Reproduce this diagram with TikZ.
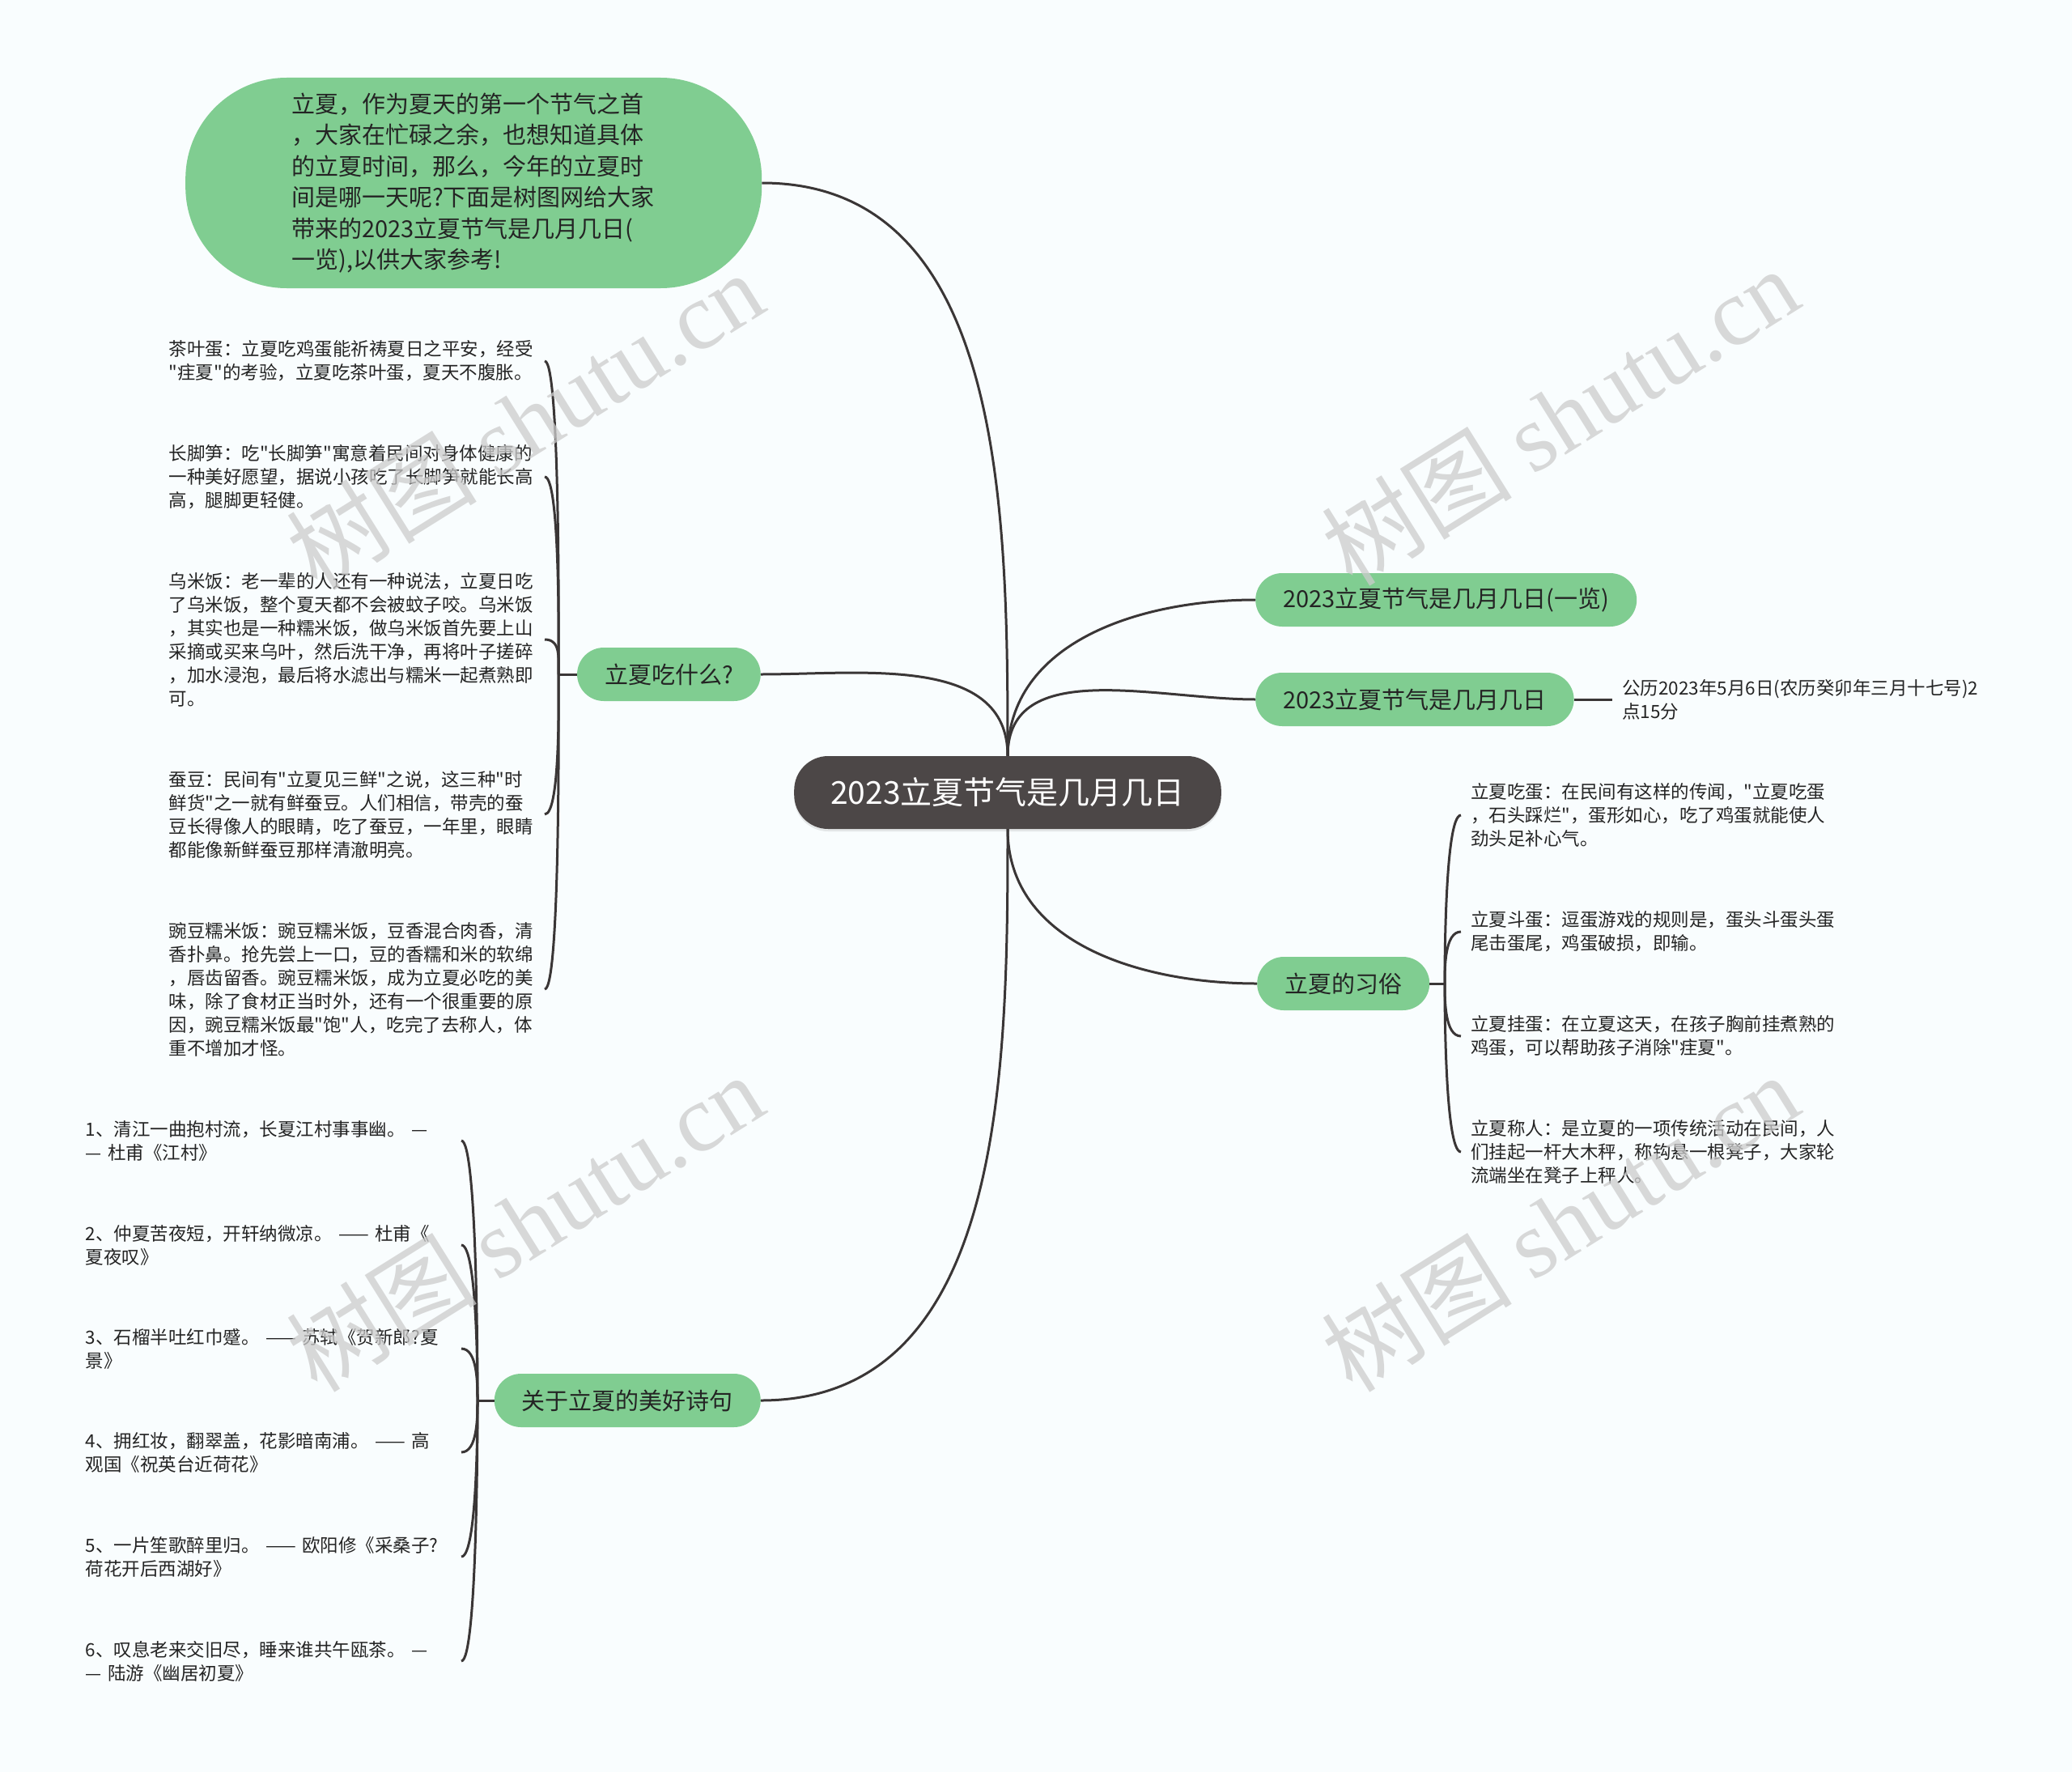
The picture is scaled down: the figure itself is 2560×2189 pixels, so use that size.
\documentclass[tikz,border=0pt]{standalone}
\usepackage{fontspec}
\setmainfont{Noto Sans CJK SC}[Ligatures=TeXOff]
\newfontfamily\wmlatin{Liberation Serif}
\usepackage{tikz}
\usetikzlibrary{shadows}
\usepackage{xcolor}
\definecolor{lxgreen}{RGB}{128,205,145}
\definecolor{lxdark}{RGB}{76,71,71}
\definecolor{lxline}{RGB}{58,54,54}
\definecolor{lxtext}{RGB}{36,36,36}
\definecolor{lxpaper}{RGB}{249,253,254}
\definecolor{lxmark}{RGB}{204,204,204}

\tikzset{
  rootnode/.style={fill=lxdark, text=white, rounded corners=42pt, minimum height=90pt,
    inner xsep=45pt, inner ysep=0pt, font=\fontsize{39}{46}\selectfont,
    drop shadow={shadow xshift=0pt, shadow yshift=-3pt, opacity=0.18}},
  topicnode/.style={fill=lxgreen, text=lxtext, rounded corners=33pt, minimum height=66pt,
    inner xsep=34pt, inner ysep=0pt, font=\fontsize{29}{36}\selectfont},
  leafnode/.style={text=lxtext, align=left, text width=452pt, inner xsep=12pt,
    inner ysep=0pt, font=\fontsize{22.5}{29}\selectfont},
  link/.style={draw=lxline, line width=3pt},
  twig/.style={link, out distance=20pt, in distance=20pt},
  wmtext/.style={text=lxmark, text opacity=0.75, rotate=32, font=\fontsize{118}{124}\selectfont}
}

\begin{document}
\begin{tikzpicture}[x=1pt,y=1pt]
\fill[lxpaper] (0,0) rectangle (2560,-2189);
\useasboundingbox (0,0) rectangle (2560,-2189);

% centre and first level
\node[rootnode] (root) at (1245,-979) {2023立夏节气是几月几日};
\node[fill=lxgreen, text=lxtext, rounded corners=125pt, align=left, text width=450pt,
  minimum height=260pt, inner xsep=131pt, inner ysep=0pt, anchor=west,
  font=\fontsize{29}{38.4}\selectfont] (intro) at (229,-226)
  {立夏，作为夏天的第一个节气之首\\，大家在忙碌之余，也想知道具体\\的立夏时间，那么，今年的立夏时\\间是哪一天呢?下面是树图网给大家\\带来的2023立夏节气是几月几日(\\一览),以供大家参考!};
\node[topicnode, anchor=west] (yilan) at (1551,-741) {2023立夏节气是几月几日(一览)};
\node[topicnode, anchor=west] (jiri) at (1551,-864) {2023立夏节气是几月几日};
\node[topicnode, anchor=west] (xisu) at (1553,-1215) {立夏的习俗};
\node[topicnode, anchor=east] (chi) at (940,-833) {立夏吃什么?};
\node[topicnode, anchor=east] (shiju) at (940,-1730) {关于立夏的美好诗句};

\draw[link] (root.north) to[out=90,in=0] (intro.east);
\draw[link] (root.north) to[out=90,in=0] (chi.east);
\draw[link] (root.north) to[out=90,in=180] (yilan.west);
\draw[link] (root.north) to[out=90,in=180] (jiri.west);
\draw[link] (root.south) to[out=-90,in=180] (xisu.west);
\draw[link] (root.south) to[out=-90,in=0] (shiju.east);

% date
\node[leafnode, anchor=west] (riqi) at (1992,-864) {公历2023年5月6日(农历癸卯年三月十七号)2\\点15分};
\draw[link] (jiri.east) -- (riqi.west);

% what to eat
\coordinate (chiJ) at (690,-833);
\node[leafnode, anchor=east] (chaye) at (673,-446) {茶叶蛋：立夏吃鸡蛋能祈祷夏日之平安，经受\\"疰夏"的考验，立夏吃茶叶蛋，夏天不腹胀。};
\node[leafnode, anchor=east] (sun) at (673,-589) {长脚笋：吃"长脚笋"寓意着民间对身体健康的\\一种美好愿望，据说小孩吃了长脚笋就能长高\\高，腿脚更轻健。};
\node[leafnode, anchor=east] (wumi) at (673,-790) {乌米饭：老一辈的人还有一种说法，立夏日吃\\了乌米饭，整个夏天都不会被蚊子咬。乌米饭\\，其实也是一种糯米饭，做乌米饭首先要上山\\采摘或买来乌叶，然后洗干净，再将叶子搓碎\\，加水浸泡，最后将水滤出与糯米一起煮熟即\\可。};
\node[leafnode, anchor=east] (candou) at (673,-1006) {蚕豆：民间有"立夏见三鲜"之说，这三种"时\\鲜货"之一就有鲜蚕豆。人们相信，带壳的蚕\\豆长得像人的眼睛，吃了蚕豆，一年里，眼睛\\都能像新鲜蚕豆那样清澈明亮。};
\node[leafnode, anchor=east] (wandou) at (673,-1222) {豌豆糯米饭：豌豆糯米饭，豆香混合肉香，清\\香扑鼻。抢先尝上一口，豆的香糯和米的软绵\\，唇齿留香。豌豆糯米饭，成为立夏必吃的美\\味，除了食材正当时外，还有一个很重要的原\\因，豌豆糯米饭最"饱"人，吃完了去称人，体\\重不增加才怪。};
\draw[link] (chi.west) -- (chiJ);
\foreach \n in {chaye,sun,wumi}
  \draw[twig] (chiJ) to[out=90,in=0] (\n.east);
\foreach \n in {candou,wandou}
  \draw[twig] (chiJ) to[out=-90,in=0] (\n.east);

% poems
\coordinate (shijuJ) at (590,-1730);
\node[leafnode, anchor=east] (shi1) at (570,-1409) {1、清江一曲抱村流，长夏江村事事幽。 —\\— 杜甫《江村》};
\node[leafnode, anchor=east] (shi2) at (570,-1538) {2、仲夏苦夜短，开轩纳微凉。 —— 杜甫《\\夏夜叹》};
\node[leafnode, anchor=east] (shi3) at (570,-1666) {3、石榴半吐红巾蹙。 —— 苏轼《贺新郎?夏\\景》};
\node[leafnode, anchor=east] (shi4) at (570,-1794) {4、拥红妆，翻翠盖，花影暗南浦。 —— 高\\观国《祝英台近荷花》};
\node[leafnode, anchor=east] (shi5) at (570,-1923) {5、一片笙歌醉里归。 —— 欧阳修《采桑子?\\荷花开后西湖好》};
\node[leafnode, anchor=east] (shi6) at (570,-2052) {6、叹息老来交旧尽，睡来谁共午瓯茶。 —\\— 陆游《幽居初夏》};
\draw[link] (shiju.west) -- (shijuJ);
\foreach \n in {shi1,shi2,shi3}
  \draw[twig] (shijuJ) to[out=90,in=0] (\n.east);
\foreach \n in {shi4,shi5,shi6}
  \draw[twig] (shijuJ) to[out=-90,in=0] (\n.east);

% customs
\coordinate (xisuJ) at (1785,-1215);
\node[leafnode, anchor=west] (chidan) at (1805,-1007) {立夏吃蛋：在民间有这样的传闻，"立夏吃蛋\\，石头踩烂"，蛋形如心，吃了鸡蛋就能使人\\劲头足补心气。};
\node[leafnode, anchor=west] (doudan) at (1805,-1151) {立夏斗蛋：逗蛋游戏的规则是，蛋头斗蛋头蛋\\尾击蛋尾，鸡蛋破损，即输。};
\node[leafnode, anchor=west] (guadan) at (1805,-1280) {立夏挂蛋：在立夏这天，在孩子胸前挂煮熟的\\鸡蛋，可以帮助孩子消除"疰夏"。};
\node[leafnode, anchor=west] (chengren) at (1805,-1423) {立夏称人：是立夏的一项传统活动在民间，人\\们挂起一杆大木秤，称钩悬一根凳子，大家轮\\流端坐在凳子上秤人。};
\draw[link] (xisu.east) -- (xisuJ);
\foreach \n in {chidan,doudan}
  \draw[twig] (xisuJ) to[out=90,in=180] (\n.west);
\foreach \n in {guadan,chengren}
  \draw[twig] (xisuJ) to[out=-90,in=180] (\n.west);

% watermarks
\foreach \wx/\wy [count=\i] in {648/-519, 1927/-514, 648/-1510, 1927/-1510}
  \node[wmtext] (wm\i) at (\wx,\wy) {树图 {\wmlatin shutu.cn}};
\end{tikzpicture}
\end{document}
